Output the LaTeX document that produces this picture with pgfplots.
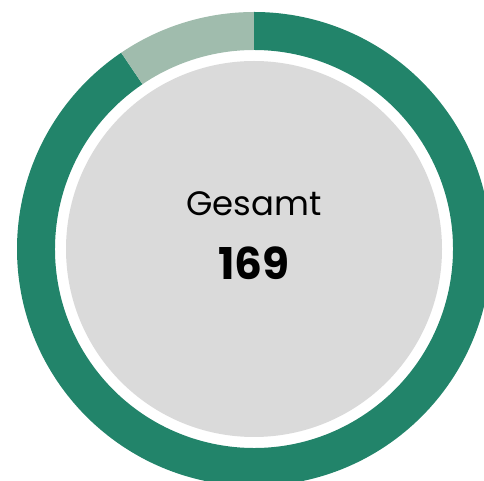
\documentclass[border=0pt]{standalone}
\usepackage{pgfplots}
\usepackage{pgfplotstable}
\pgfplotsset{compat=1.18}
\usepackage{fontspec}
\setmainfont{Poppins}
\definecolor{darkg}{HTML}{22846A}
\definecolor{lightg}{HTML}{A0BCAD}
\definecolor{inner}{HTML}{DADADA}
\pgfplotstableread{
label value
Dunkel 153
Hell 16
}\donutdata
\begin{document}
\begin{tikzpicture}
\begin{axis}[
  scale only axis, width=484bp, height=481bp,
  xmin=0, xmax=484, ymin=0, ymax=481,
  hide axis, clip=true,
]
\pgfplotstablegetelem{0}{value}\of\donutdata \pgfmathsetmacro{\va}{\pgfplotsretval}
\pgfplotstablegetelem{1}{value}\of\donutdata \pgfmathsetmacro{\vb}{\pgfplotsretval}
\pgfmathsetmacro{\tot}{\va+\vb}
\pgfmathsetmacro{\ea}{90-360*(\va/\tot)}
\pgfmathsetmacro{\eb}{\ea-360*(\vb/\tot)}
% dark segment
\fill[darkg] (axis cs:254,232) ++(90:237bp) arc[start angle=90, end angle=\ea, radius=237bp]
  -- ++(\ea+180:38bp) arc[start angle=\ea, end angle=90, radius=199bp] -- cycle;
% light segment
\fill[lightg] (axis cs:254,232) ++(\ea:237bp) arc[start angle=\ea, end angle=\eb, radius=237bp]
  -- ++(\eb+180:38bp) arc[start angle=\eb, end angle=\ea, radius=199bp] -- cycle;
\fill[inner] (axis cs:254,232) circle[radius=188bp];
\node[anchor=base, font=\fontsize{34}{40}\selectfont] at (axis cs:254,265) {Gesamt};
\node[anchor=base, font=\fontsize{44}{50}\selectfont\bfseries] at (axis cs:254,201) {169};
\end{axis}
\useasboundingbox (current axis.south west) rectangle (current axis.north east);
\end{tikzpicture}
\end{document}
